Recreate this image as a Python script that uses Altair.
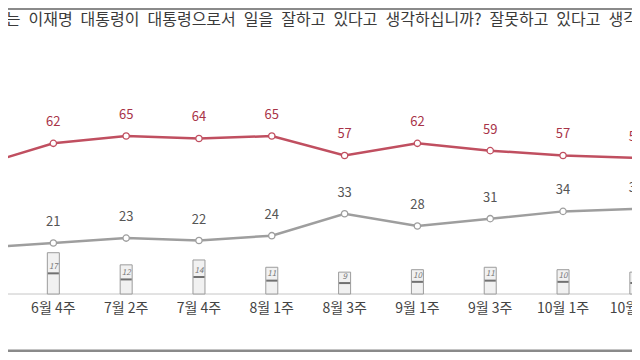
import altair as alt
import pandas as pd

categories = ["6월 2주", "6월 4주", "7월 2주", "7월 4주", "8월 1주", "8월 3주",
              "9월 1주", "9월 3주", "10월 1주", "10월 3주"]
approve = [53, 62, 65, 64, 65, 57, 62, 59, 57, 56]
disapprove = [19, 21, 23, 22, 24, 33, 28, 31, 34, 35]
unknown = [28, 17, 12, 14, 11, 9, 10, 11, 10, 9]
question = "서는 이재명 대통령이 대통령으로서 일을 잘하고 있다고 생각하십니까? 잘못하고 있다고 생각하십니까?"

df = pd.DataFrame({"cat": categories, "idx": list(range(len(categories))),
                   "approve": approve, "disapprove": disapprove, "unknown": unknown})
df["zero"] = 0
df["mid"] = df["unknown"] / 2
df["lab"] = df["unknown"] / 2 + 2.6

FONT = "Noto Sans CJK KR"
W, H = 624, 344
PX = 74.0
PY = 2.43
x0 = 33 / PX
xsc = alt.Scale(domain=[x0, x0 + W / PX], nice=False, zero=False)
ysc = alt.Scale(domain=[-(H - 286) / PY, 286 / PY], nice=False, zero=False)


def X():
    return alt.X("idx:Q", scale=xsc, axis=None)


def Y(f):
    return alt.Y(f, scale=ysc, axis=None)


base = alt.Chart(df)

bars = base.mark_bar(width=12, fill="#f1f1f1", stroke="#9c9c9c", strokeWidth=1).encode(
    x=X(), y=Y("unknown:Q"), y2="zero:Q")
ticks = base.mark_tick(orient="horizontal", size=11, thickness=2, color="#3a3a3a").encode(
    x=X(), y=Y("mid:Q"))
blab = base.mark_text(font=FONT, fontSize=8, fontStyle="italic", color="#777777",
                      baseline="middle").encode(
    x=X(), y=Y("lab:Q"), text="unknown:Q")

baseline = base.mark_rule(color="#e2e2e2", strokeWidth=1).encode(
    y=Y("zero:Q"), x=alt.value(-10), x2=alt.value(W + 10))

red_line = base.mark_line(color="#c04f60", strokeWidth=2.5).encode(
    x=X(), y=Y("approve:Q"))
red_pts = base.mark_point(shape="circle", filled=True, fill="white", stroke="#c04f60",
                          strokeWidth=1.3, size=40, opacity=1).encode(
    x=X(), y=Y("approve:Q"))
red_lab = base.mark_text(font=FONT, fontSize=13, color="#a83348", dy=-21).encode(
    x=X(), y=Y("approve:Q"), text="approve:Q")

g_line = base.mark_line(color="#9e9e9e", strokeWidth=2.5).encode(
    x=X(), y=Y("disapprove:Q"))
g_pts = base.mark_point(shape="circle", filled=True, fill="white", stroke="#9e9e9e",
                        strokeWidth=1.3, size=40, opacity=1).encode(
    x=X(), y=Y("disapprove:Q"))
g_lab = base.mark_text(font=FONT, fontSize=13, color="#555555", dy=-21).encode(
    x=X(), y=Y("disapprove:Q"), text="disapprove:Q")

cat_lab = base.mark_text(font=FONT, fontSize=14, color="#444444", baseline="middle").encode(
    x=X(), y=alt.value(301), text="cat:N")

title_df = pd.DataFrame({"t": [question.replace(" ", "\u2002")]})
title = alt.Chart(title_df).mark_text(font=FONT, fontSize=16, color="#3a3a3a", align="left",
                                       baseline="middle").encode(
    x=alt.value(-17), y=alt.value(12), text="t:N")
top_rule = alt.Chart(title_df).mark_rule(color="#8a8a8a", strokeWidth=2).encode(
    x=alt.value(-10), x2=alt.value(W + 10), y=alt.value(1))
bot_rule = alt.Chart(title_df).mark_rule(color="#8a8a8a", strokeWidth=3).encode(
    x=alt.value(-10), x2=alt.value(W + 10), y=alt.value(H - 1))

chart = alt.layer(top_rule, bot_rule, title, baseline, bars, ticks, blab,
                  g_line, g_pts, g_lab, red_line, red_pts, red_lab, cat_lab).properties(
    width=W, height=H, padding=0,
    autosize=alt.AutoSizeParams(type="none")
).configure_view(stroke=None)

chart.save("out.html", embed_options={"renderer": "svg", "actions": False})
